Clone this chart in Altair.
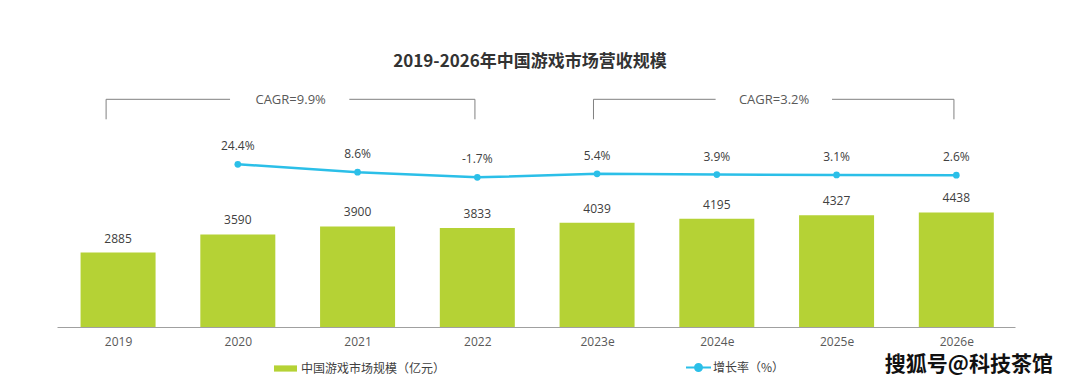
import altair as alt
import pandas as pd

# ---- data ----
years = ["2019", "2020", "2021", "2022", "2023e", "2024e", "2025e", "2026e"]
revenue = [2885, 3590, 3900, 3833, 4039, 4195, 4327, 4438]
growth = [None, 24.4, 8.6, -1.7, 5.4, 3.9, 3.1, 2.6]
growth_labels = ["", "24.4%", "8.6%", "-1.7%", "5.4%", "3.9%", "3.1%", "2.6%"]

bar_series = "中国游戏市场规模（亿元）"
line_series = "增长率（%）"
title_text = "2019-2026年中国游戏市场营收规模"

# CAGR brackets (x in category-index units, y in growth-scale units)
cagr_labels = ["CAGR=9.9%", "CAGR=3.2%"]
cagr_left = [-0.10, 3.97]
cagr_gap_l = [0.935, 4.99]
cagr_gap_r = [1.931, 5.962]
cagr_right = [2.98, 6.98]
cagr_text_x = [1.441, 5.478]
bracket_top = 154.4
bracket_bottom = 114.4
cagr_text_y = 153

watermark = "搜狐号@科技茶馆"
watermark_x = 7.105
watermark_y = -376

GREEN = "#b5d235"
CYAN = "#2bbfe8"
FONT_NUM = "Open Sans, Noto Sans CJK SC"
FONT_CJK = "Noto Sans CJK SC"

idx = list(range(len(years)))
bars_df = pd.DataFrame({"i": idx, "year": years, "rev": revenue, "s": bar_series})
line_df = pd.DataFrame({"i": idx, "g": growth, "lab": growth_labels, "s": line_series}).dropna()

seg_rows = []
vert_rows = []
for k in range(len(cagr_labels)):
    seg_rows.append({"x0": cagr_left[k], "x1": cagr_gap_l[k], "y": bracket_top})
    seg_rows.append({"x0": cagr_gap_r[k], "x1": cagr_right[k], "y": bracket_top})
    vert_rows.append({"x0": cagr_left[k], "y0": bracket_top, "y1": bracket_bottom})
    vert_rows.append({"x0": cagr_right[k], "y0": bracket_top, "y1": bracket_bottom})
seg_df = pd.DataFrame(seg_rows)
vert_df = pd.DataFrame(vert_rows)
cagr_df = pd.DataFrame({"x0": cagr_text_x, "y": [cagr_text_y] * 2, "t": cagr_labels})
wm_df = pd.DataFrame({"x0": [watermark_x], "y": [watermark_y], "t": [watermark]})

label_expr = "[" + ",".join("'%s'" % y for y in years) + "][datum.value]"
xscale = alt.Scale(domain=[-0.51, 7.49], nice=False, zero=False, padding=0)
xaxis = alt.Axis(values=idx, labelExpr=label_expr, title=None, ticks=False, grid=False,
                 domainColor="#a0a0a0", domainWidth=1, labelFontSize=12, labelColor="#595959",
                 labelFont=FONT_NUM, labelPadding=9)

bar_y = alt.Scale(domain=[0, 12364], nice=False, zero=True, padding=0)
pct_y = alt.Scale(domain=[-301, 337], nice=False, zero=False, padding=0)


def X(field):
    return alt.X(f"{field}:Q", scale=xscale, axis=xaxis)


bars = alt.Chart(bars_df).mark_bar(size=75).encode(
    x=X("i"),
    y=alt.Y("rev:Q", scale=bar_y, axis=None),
    color=alt.Color("s:N", scale=alt.Scale(domain=[bar_series], range=[GREEN]),
                    legend=alt.Legend(title=None, orient="none", legendX=217, legendY=349,
                                      symbolType="M-1,-0.27H1V0.27H-1Z", symbolSize=529,
                                      symbolStrokeWidth=0, labelFontSize=12, labelColor="#404040",
                                      labelFont=FONT_CJK, labelOffset=4, padding=0)),
)
bar_text = alt.Chart(bars_df).mark_text(baseline="middle", dy=-14, fontSize=12, color="#404040",
                                        font=FONT_NUM).encode(
    x=X("i"), y=alt.Y("rev:Q", scale=bar_y, axis=None), text="rev:Q")

line = alt.Chart(line_df).mark_line(strokeWidth=2.5).encode(
    x=X("i"),
    y=alt.Y("g:Q", scale=pct_y, axis=None),
    stroke=alt.Stroke("s:N", scale=alt.Scale(domain=[line_series], range=[CYAN]),
                      legend=alt.Legend(title=None, orient="none", legendX=628, legendY=346,
                                        symbolType="M-1,0H1M-0.28,0A0.28,0.28,0,1,1,0.28,0A0.28,0.28,0,1,1,-0.28,0",
                                        symbolSize=625, symbolStrokeWidth=2, symbolFillColor=CYAN,
                                        labelFontSize=12, labelColor="#404040", labelFont=FONT_CJK,
                                        labelOffset=1, padding=0)),
)
points = alt.Chart(line_df).mark_circle(size=45, opacity=1, color=CYAN).encode(
    x=X("i"), y=alt.Y("g:Q", scale=pct_y, axis=None))
line_text = alt.Chart(line_df).mark_text(baseline="middle", dy=-18, fontSize=12, color="#404040",
                                         font=FONT_NUM).encode(
    x=X("i"), y=alt.Y("g:Q", scale=pct_y, axis=None), text="lab:N")

segs = alt.Chart(seg_df).mark_rule(color="#808080", strokeWidth=1).encode(
    x=X("x0"), x2="x1:Q", y=alt.Y("y:Q", scale=pct_y, axis=None))
verts = alt.Chart(vert_df).mark_rule(color="#808080", strokeWidth=1).encode(
    x=X("x0"), y=alt.Y("y0:Q", scale=pct_y, axis=None), y2="y1:Q")
cagr = alt.Chart(cagr_df).mark_text(baseline="middle", fontSize=13, color="#595959",
                                    font=FONT_NUM).encode(
    x=X("x0"), y=alt.Y("y:Q", scale=pct_y, axis=None), text="t:N")
wm = alt.Chart(wm_df).mark_text(baseline="middle", fontSize=21, fontWeight="bold", color="#111111",
                                font=FONT_CJK).encode(
    x=X("x0"), y=alt.Y("y:Q", scale=pct_y, axis=None), text="t:N")

chart = alt.layer(bars, bar_text, segs, verts, cagr, line, points, line_text, wm).resolve_scale(
    y="independent", color="independent", stroke="independent"
).properties(
    width=958, height=319,
    background="white",
    title=alt.TitleParams(title_text, fontSize=17, fontWeight="bold", color="#333333",
                          font=FONT_CJK, anchor="middle", dx=-6, dy=63, offset=0),
    autosize=alt.AutoSizeParams(type="none"),
    padding={"left": 49, "top": 0, "right": 57, "bottom": 49},
).configure_view(strokeWidth=0, stroke="transparent")

chart.save("out.html", embed_options={"renderer": "svg", "actions": False})
